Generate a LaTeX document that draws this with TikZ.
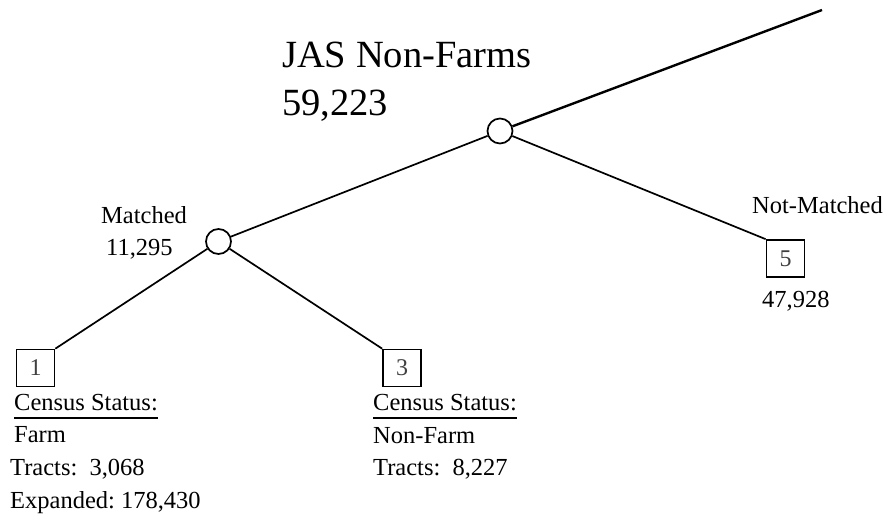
\documentclass[tikz,border=0pt]{standalone}
\usepackage{fontspec}
\setmainfont{Liberation Serif}
\begin{document}
\begin{tikzpicture}[x=1pt,y=-1pt,
  split/.style={draw, circle, line width=1.7pt, minimum size=25pt, inner sep=0pt, fill=white},
  leaf/.style={draw, line width=1.7pt, minimum width=38pt, minimum height=37pt, inner sep=0pt,
    font=\fontsize{24}{24}\selectfont, text=black!75},
  edge/.style={line width=1.7pt},
  lbl/.style={anchor=base west, inner sep=0pt, font=\fontsize{24.5}{24.5}\selectfont},
  big/.style={anchor=base west, inner sep=0pt, font=\fontsize{38.5}{38.5}\selectfont},
  uline/.style={line width=1.3pt}]
\useasboundingbox (0,0) rectangle (890,517);

% split points
\node[split] (root) at (500,131) {};
\node[split] (match) at (218.5,241.5) {};
\coordinate (up) at (822,10);

% leaves
\node[leaf] (l1) at (35.5,368) {1};
\node[leaf] (l3) at (402,368) {3};
\node[leaf] (l5) at (785.5,258.5) {5};

% branches
\draw[line width=2.4pt] (root) -- (up);
\draw[edge] (root) -- (match);
\draw[edge] (root) -- (l5.north west);
\draw[edge] (match) -- (l1.north east);
\draw[edge] (match) -- (l3.north west);

% root label
\node[big] (t1) at (282,67) {JAS Non-Farms};
\node[big] (t2) at (282,115) {59,223};

% branch labels
\node[lbl] (m1) at (101,223) {Matched};
\node[lbl] (m2) at (106,255) {11,295};
\node[lbl] (n1) at (752,213) {Not-Matched};
\node[lbl] (n2) at (762,307) {47,928};

% leaf 1 details
\node[lbl] (a1) at (14,410) {Census Status:};
\draw[uline] ([yshift=-8pt]a1.base west) -- ([yshift=-8pt]a1.base east);
\node[lbl] (a2) at (14,442) {Farm};
\node[lbl] (a3) at (10,475) {Tracts:\ \ 3,068};
\node[lbl] (a4) at (10,508) {Expanded:\ 178,430};

% leaf 3 details
\node[lbl] (b1) at (373,410) {Census Status:};
\draw[uline] ([yshift=-8pt]b1.base west) -- ([yshift=-8pt]b1.base east);
\node[lbl] (b2) at (373,443) {Non-Farm};
\node[lbl] (b3) at (373,475) {Tracts:\ \ 8,227};
\end{tikzpicture}
\end{document}
